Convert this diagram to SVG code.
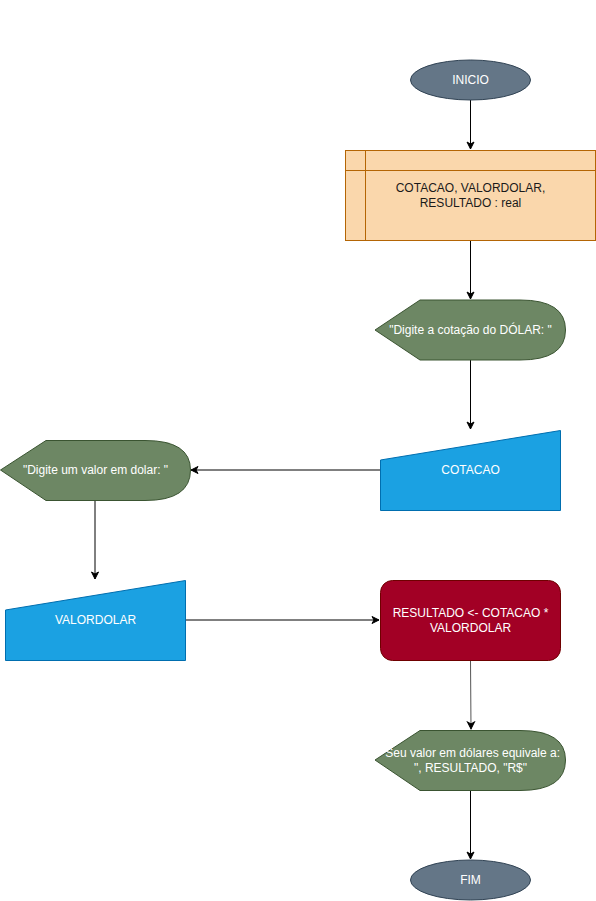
<svg xmlns="http://www.w3.org/2000/svg" width="596" height="901" viewBox="0 0 596 901">
<defs>
<marker id="arr" markerWidth="10" markerHeight="10" refX="8" refY="5" orient="auto" markerUnits="userSpaceOnUse">
<path d="M1,1.5 L8,5 L1,8.5 L3,5 Z" fill="#000" stroke="#000" stroke-width="1"/>
</marker>
<style>
.t{font-family:"Liberation Sans",Arial,sans-serif;font-size:12px;text-anchor:middle;dominant-baseline:central}
.w{fill:#ffffff}
.k{fill:#1a1a1a}
.term{fill:#647687;stroke:#314354;stroke-width:1}
.disp{fill:#6d8764;stroke:#3a5431;stroke-width:1}
.inp{fill:#1ba1e2;stroke:#006eaf;stroke-width:1}
.proc{fill:#a20025;stroke:#6f0000;stroke-width:1}
.data{fill:#fad7ac;stroke:#b46504;stroke-width:1}
.c{fill:none;stroke:#000;stroke-width:1;marker-end:url(#arr)}
</style>
</defs>
<rect width="596" height="901" fill="#ffffff"/>
<g id="connectors">
<path class="c" d="M470.5,100 L470.5,149"/>
<path class="c" d="M470.5,240 L470.5,299"/>
<path class="c" d="M470.5,360 L470.5,429"/>
<path class="c" d="M380,470 L191,470"/>
<path class="c" d="M95,500 L95,579"/>
<path class="c" d="M185,620 L379,620"/>
<path class="c" d="M470.5,660 L471,729" style="stroke:#555"/>
<path class="c" d="M470.5,790 L470.5,859"/>
</g>
<g id="inicio">
<ellipse class="term" cx="470.5" cy="80" rx="60" ry="20"/>
<text class="t w" x="470.5" y="80">INICIO</text>
</g>
<g id="declaracao">
<rect class="data" x="345.5" y="150.5" width="250" height="90"/>
<line x1="365.5" y1="150.5" x2="365.5" y2="240.5" stroke="#b46504"/>
<line x1="345.5" y1="170.5" x2="595.5" y2="170.5" stroke="#b46504"/>
<text class="t k" x="470.5" y="188">COTACAO, VALORDOLAR,</text>
<text class="t k" x="470.5" y="202.5">RESULTADO : real</text>
</g>
<g id="display1">
<path class="disp" d="M375,330 L420,300 L520,300 Q565.5,300 565.5,330 Q565.5,360 520,360 L420,360 Z"/>
<text class="t w" x="470.5" y="330">"Digite a cotação do DÓLAR: "</text>
</g>
<g id="cotacao">
<path class="inp" d="M380.5,460 L560.5,430.5 L560.5,510.5 L380.5,510.5 Z"/>
<text class="t w" x="470.5" y="470">COTACAO</text>
</g>
<g id="display2">
<path class="disp" d="M0.5,470 L46,440.5 L145,440.5 Q190.5,440.5 190.5,470 Q190.5,500.5 145,500.5 L46,500.5 Z"/>
<text class="t w" x="95.5" y="470">"Digite um valor em dolar: "</text>
</g>
<g id="valordolar">
<path class="inp" d="M5.5,610 L185.5,580.5 L185.5,660.5 L5.5,660.5 Z"/>
<text class="t w" x="95.5" y="620">VALORDOLAR</text>
</g>
<g id="processo">
<rect class="proc" x="380.5" y="580.5" width="180" height="80" rx="12" ry="12"/>
<text class="t w" x="470.5" y="612.5">RESULTADO &lt;- COTACAO *</text>
<text class="t w" x="470.5" y="627.5">VALORDOLAR</text>
</g>
<g id="display3">
<path class="disp" d="M375,760 L420,730.5 L520,730.5 Q565.5,730.5 565.5,760 Q565.5,790.5 520,790.5 L420,790.5 Z"/>
<text class="t w" x="470.5" y="753">"Seu valor em dólares equivale a:</text>
<text class="t w" x="470.5" y="767.5">", RESULTADO, "R$"</text>
</g>
<g id="fim">
<ellipse class="term" cx="470.5" cy="880" rx="60" ry="20"/>
<text class="t w" x="470.5" y="880">FIM</text>
</g>
</svg>
